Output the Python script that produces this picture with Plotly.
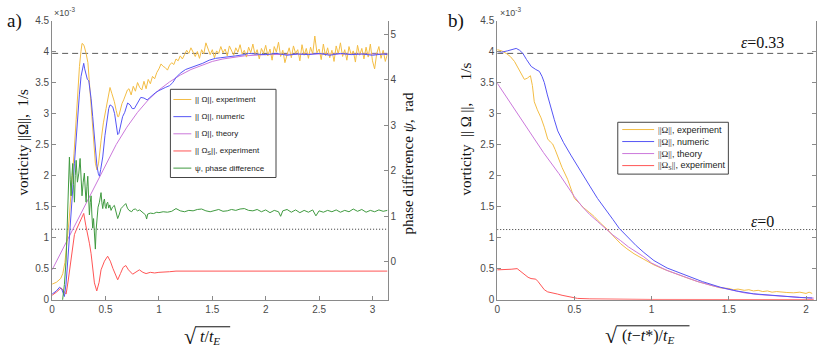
import plotly.graph_objects as go

W, H = 830, 357
def PX(x): return x / W
def PY(y): return 1 - y / H

PI = 3.14159

# ---------------- Panel a) data (vorticity in units of 1e-3 1/s) ----------------
a_exp_x = [0, 0.04, 0.08, 0.10, 0.12, 0.14, 0.16, 0.178, 0.19, 0.205, 0.225, 0.24, 0.256, 0.27, 0.28, 0.29,
           0.30, 0.318, 0.335, 0.349, 0.365, 0.38, 0.395, 0.405, 0.42, 0.435, 0.458, 0.48, 0.505, 0.525, 0.542,
           0.56, 0.583, 0.60, 0.614, 0.623, 0.64, 0.654, 0.67, 0.69, 0.705, 0.72,
           0.74, 0.76, 0.78, 0.80, 0.82, 0.84, 0.86, 0.88, 0.90, 0.92, 0.94, 0.96, 0.98, 1.00, 1.02, 1.04,
           1.06, 1.08, 1.10, 1.12, 1.14, 1.16, 1.18,
           1.20, 1.22, 1.24, 1.26, 1.28, 1.30, 1.32, 1.34, 1.36, 1.38, 1.40, 1.42, 1.44, 1.46, 1.48, 1.50,
           1.52, 1.54, 1.56, 1.58, 1.60, 1.62, 1.64, 1.66, 1.68, 1.70, 1.72, 1.74, 1.76, 1.78, 1.80, 1.82,
           1.84, 1.86, 1.88, 1.90, 1.92, 1.94, 1.96, 1.98, 2.00, 2.02, 2.04, 2.06, 2.08, 2.10, 2.12, 2.14,
           2.16, 2.18, 2.20, 2.22, 2.24, 2.26, 2.28, 2.30, 2.32, 2.34, 2.36, 2.38, 2.40, 2.42, 2.44, 2.46,
           2.48, 2.50, 2.52, 2.54, 2.56, 2.58, 2.60, 2.62, 2.64, 2.66, 2.68, 2.70, 2.72, 2.74, 2.76, 2.78,
           2.80, 2.82, 2.84, 2.86, 2.88, 2.90, 2.92, 2.94, 2.96, 2.98, 3.00, 3.02, 3.04, 3.06, 3.08, 3.10,
           3.12, 3.14]
a_exp_y = [0.25, 0.28, 0.34, 0.42, 0.60, 0.90, 1.30, 1.75, 2.00, 2.35, 2.90, 3.35, 3.76, 4.00, 4.13, 4.12,
           4.09, 3.97, 3.82, 3.50, 3.10, 2.72, 2.40, 2.20, 2.09, 2.20, 2.56, 2.85, 3.08, 3.30, 3.42,
           3.32, 3.19, 3.05, 2.95, 2.95, 3.08, 3.16, 3.22, 3.30, 3.38, 3.40,
           3.30, 3.44, 3.36, 3.50, 3.42, 3.38, 3.52, 3.40, 3.55, 3.48, 3.60, 3.56, 3.66, 3.72, 3.80, 3.76,
           3.74, 3.70, 3.78, 3.82, 3.79, 3.88, 3.85,
           3.93, 3.88, 3.95, 4.02, 3.97, 4.06, 3.99, 3.92, 4.00, 3.89, 4.03, 3.96, 4.14, 4.05, 3.95, 4.03,
           3.90, 4.01, 3.97, 4.08, 3.98, 4.04, 3.93, 4.09, 4.00, 3.94, 4.06, 3.99, 4.11, 3.96, 4.02, 3.91,
           4.07, 3.98, 4.12, 3.95, 4.03, 3.88, 4.05, 3.97, 4.10, 3.93, 4.04, 3.86, 4.08, 3.99, 4.15, 3.92,
           4.02, 3.82, 3.95, 4.06, 3.90, 4.09, 3.97, 4.03, 3.85, 4.11, 3.94, 4.05, 3.89, 4.07, 3.96, 4.25,
           3.98, 4.04, 3.87, 4.12, 3.93, 4.06, 3.90, 4.02, 3.84, 4.09, 3.96, 4.14, 3.92, 4.03, 3.86, 4.08,
           3.95, 4.01, 3.83, 4.10, 3.94, 4.05, 3.88, 4.07, 3.91, 4.12, 3.85, 3.72, 3.97, 4.08, 3.89, 4.02,
           3.84, 3.96]

a_num_x = [0, 0.04, 0.07, 0.09, 0.115, 0.13, 0.147, 0.168, 0.178, 0.194, 0.209, 0.224, 0.24, 0.255, 0.271,
           0.285, 0.296, 0.305, 0.318, 0.33, 0.343, 0.355, 0.365, 0.38, 0.396, 0.41, 0.42, 0.433, 0.443, 0.455,
           0.474, 0.495, 0.514, 0.53, 0.542, 0.555, 0.567, 0.585, 0.604, 0.614, 0.625, 0.64, 0.66, 0.68, 0.707,
           0.73, 0.75, 0.77, 0.80, 0.83, 0.86, 0.89, 0.91, 0.94, 0.97, 1.00, 1.03, 1.06, 1.10, 1.13, 1.16,
           1.20, 1.25, 1.30, 1.35, 1.41, 1.47, 1.53, 1.58, 1.64, 1.72, 1.80, 1.84, 1.90, 2.00, 2.10, 2.20,
           2.30, 2.40, 2.50, 2.60, 2.70, 2.80, 2.90, 3.00, 3.10, 3.14]
a_num_y = [0.09, 0.14, 0.20, 0.17, 0.05, 0.25, 0.64, 1.10, 1.36, 1.80, 2.20, 2.60, 2.98, 3.30, 3.60,
           3.75, 3.81, 3.72, 3.60, 3.55, 3.53, 3.40, 3.24, 2.95, 2.61, 2.32, 2.15, 2.03, 1.99, 2.10,
           2.30, 2.65, 2.90, 3.08, 3.14, 3.13, 3.11, 3.00, 2.80, 2.66, 2.68, 2.82, 2.95, 3.02, 3.17,
           3.14, 3.08, 3.08, 3.18, 3.26, 3.25, 3.22, 3.25, 3.30, 3.34, 3.37, 3.40, 3.42, 3.45, 3.50, 3.58,
           3.65, 3.71, 3.74, 3.77, 3.81, 3.86, 3.89, 3.90, 3.91, 3.93, 3.95, 3.97, 3.96, 3.95, 3.97, 3.94,
           3.96, 3.95, 3.97, 3.94, 3.97, 3.95, 3.96, 3.94, 3.96, 3.95]

a_th_x = [0, 0.1, 0.2, 0.3, 0.4, 0.5, 0.6, 0.7, 0.8, 0.9, 1.0, 1.1, 1.2, 1.3, 1.4, 1.5, 1.6, 1.7, 1.8,
          2.0, 2.4, 3.14]
a_th_y = [0.48, 0.82, 1.16, 1.50, 1.84, 2.17, 2.50, 2.78, 3.02, 3.22, 3.38, 3.51, 3.62, 3.71, 3.78,
          3.84, 3.88, 3.91, 3.93, 3.95, 3.96, 3.96]

a_s_x = [0, 0.04, 0.084, 0.10, 0.12, 0.131, 0.15, 0.178, 0.194, 0.209, 0.23, 0.256, 0.275, 0.296, 0.315,
         0.334, 0.35, 0.365, 0.38, 0.396, 0.418, 0.44, 0.458, 0.49, 0.52, 0.545, 0.57, 0.595, 0.614, 0.64,
         0.665, 0.69, 0.715, 0.754, 0.785, 0.817, 0.85, 0.88, 0.92, 0.96, 1.0, 1.05, 1.1, 1.16, 1.3, 1.5,
         1.8, 2.0, 2.2, 2.5, 2.8, 3.14]
a_s_y = [0.07, 0.12, 0.19, 0.15, 0.10, 0.09, 0.30, 0.64, 0.85, 1.05, 1.14, 1.23, 1.30, 1.39, 1.20,
         1.05, 0.90, 0.74, 0.50, 0.27, 0.14, 0.28, 0.48, 0.62, 0.70, 0.62, 0.50, 0.38, 0.32, 0.42,
         0.52, 0.55, 0.48, 0.41, 0.45, 0.48, 0.44, 0.42, 0.44, 0.43, 0.44, 0.44, 0.45, 0.46, 0.46, 0.46,
         0.47, 0.46, 0.46, 0.46, 0.46, 0.46]

# phase difference psi, rad (right axis)
a_psi_x = [0.09, 0.115, 0.131, 0.147, 0.162, 0.170, 0.178, 0.186, 0.193, 0.201, 0.209, 0.217, 0.225, 0.237,
           0.250, 0.262, 0.271, 0.280, 0.291, 0.302, 0.310, 0.318, 0.326, 0.334, 0.342, 0.349, 0.357, 0.365,
           0.372, 0.380, 0.388, 0.396, 0.405, 0.412, 0.420, 0.430, 0.443, 0.450, 0.458, 0.466, 0.474, 0.482,
           0.490, 0.497, 0.505, 0.512, 0.520, 0.530, 0.540, 0.552, 0.565, 0.583, 0.600, 0.614, 0.630, 0.645,
           0.665, 0.690, 0.705, 0.720, 0.745, 0.760, 0.780, 0.800, 0.820, 0.840, 0.860, 0.875, 0.885, 0.895,
           0.92, 0.95, 0.98,
           1.00, 1.04, 1.08, 1.12, 1.16, 1.20, 1.24, 1.28, 1.32, 1.36, 1.40, 1.44, 1.48, 1.52, 1.56, 1.60,
           1.64, 1.68, 1.72, 1.76, 1.80, 1.84, 1.88, 1.92, 1.96, 2.00, 2.04, 2.08, 2.12, 2.14, 2.16, 2.20,
           2.24, 2.28, 2.32, 2.36, 2.40, 2.44, 2.47, 2.50, 2.54, 2.58, 2.62, 2.66, 2.70, 2.74, 2.78, 2.82,
           2.86, 2.90, 2.94, 2.98, 3.02, 3.06, 3.10, 3.14]
a_psi_y = [-1.0, -0.5, 0.04, 1.31, 2.30, 1.80, 1.45, 1.90, 2.16, 1.70, 1.31, 1.90, 2.23, 1.75,
           1.95, 2.27, 1.80, 1.45, 1.75, 1.95, 1.60, 1.31, 1.65, 1.88, 1.40, 1.03, 1.30, 1.45,
           1.05, 0.74, 0.95, 0.55, 0.28, 0.70, 1.03, 1.20, 1.31, 1.45, 1.52, 1.30, 1.17, 1.32,
           1.38, 1.22, 1.17, 1.28, 1.31, 1.18, 1.25, 1.13, 1.20, 1.24, 1.08, 0.95, 1.05, 1.17,
           1.22, 1.28, 1.18, 1.13, 1.10, 1.15, 1.16, 1.12, 1.14, 1.09, 1.06, 1.03, 0.94, 1.05,
           1.07, 1.06, 1.09,
           1.08, 1.10, 1.09, 1.11, 1.17, 1.12, 1.10, 1.13, 1.12, 1.15, 1.16, 1.12, 1.10, 1.13, 1.15, 1.11,
           1.12, 1.15, 1.13, 1.16, 1.17, 1.13, 1.12, 1.15, 1.10, 1.14, 1.08, 1.13, 1.10, 1.00, 1.12, 1.15,
           1.09, 1.14, 1.08, 1.13, 1.09, 1.14, 1.01, 1.12, 1.09, 1.13, 1.10, 1.14, 1.09, 1.13, 1.10, 1.16,
           1.11, 1.15, 1.09, 1.13, 1.10, 1.14, 1.11, 1.13]

# ---------------- Panel b) data ----------------
b_exp_x = [0, 0.03, 0.058, 0.085, 0.112, 0.14, 0.176, 0.195, 0.215, 0.228, 0.24, 0.26, 0.284, 0.305, 0.327,
           0.345, 0.359, 0.375, 0.392, 0.42, 0.456, 0.48, 0.5, 0.53, 0.56, 0.60, 0.628, 0.67, 0.714, 0.75,
           0.8, 0.84, 0.886, 0.95, 1.015, 1.08, 1.15, 1.23, 1.30, 1.37, 1.445, 1.50, 1.53, 1.56, 1.60, 1.63,
           1.66, 1.69, 1.72, 1.75, 1.78, 1.81, 1.84, 1.876, 1.92, 1.96, 2.00, 2.02, 2.04]
b_exp_y = [4.03, 4.01, 3.97, 3.92, 3.84, 3.72, 3.55, 3.57, 3.61, 3.45, 3.19, 3.06, 2.93, 2.78, 2.59,
           2.54, 2.51, 2.42, 2.30, 2.13, 1.94, 1.78, 1.63, 1.56, 1.48, 1.40, 1.34, 1.23, 1.13, 1.03,
           0.90, 0.82, 0.74, 0.65, 0.56, 0.49, 0.42, 0.35, 0.29, 0.24, 0.19, 0.18, 0.16, 0.17, 0.15, 0.16,
           0.14, 0.15, 0.13, 0.14, 0.12, 0.13, 0.12, 0.115, 0.11, 0.12, 0.10, 0.12, 0.10]

b_num_x = [0, 0.03, 0.065, 0.10, 0.123, 0.145, 0.166, 0.19, 0.22, 0.25, 0.273, 0.29, 0.305, 0.325, 0.348,
           0.37, 0.392, 0.43, 0.477, 0.515, 0.553, 0.60, 0.65, 0.70, 0.75, 0.79, 0.85, 0.9, 0.95,
           1.015, 1.1, 1.23, 1.33, 1.445, 1.55, 1.66, 1.77, 1.876, 1.96, 2.04]
b_num_y = [4.00, 3.99, 4.01, 4.03, 4.05, 4.02, 3.97, 3.87, 3.76, 3.71, 3.68, 3.60, 3.50, 3.30, 3.08,
           2.90, 2.72, 2.53, 2.33, 2.17, 2.01, 1.83, 1.63, 1.45, 1.29, 1.15, 0.99, 0.87, 0.76,
           0.63, 0.51, 0.38, 0.29, 0.20, 0.14, 0.094, 0.07, 0.05, 0.035, 0.026]

b_th_x = [0, 0.1, 0.2, 0.3, 0.4, 0.45, 0.5, 0.55, 0.6, 0.65, 0.7, 0.75, 0.8, 0.85, 0.9, 0.95, 1.0, 1.1,
          1.2, 1.3, 1.4, 1.5, 1.6, 1.7, 1.8, 1.9, 2.0, 2.05]
b_th_y = [3.49, 3.12, 2.74, 2.37, 2.03, 1.84, 1.66, 1.50, 1.37, 1.26, 1.15, 1.04, 0.95, 0.85, 0.77, 0.69,
          0.59, 0.47, 0.38, 0.29, 0.22, 0.16, 0.11, 0.08, 0.06, 0.04, 0.03, 0.025]

b_s_x = [0, 0.058, 0.09, 0.129, 0.15, 0.176, 0.2, 0.219, 0.25, 0.265, 0.284, 0.305, 0.327, 0.36, 0.39,
         0.42, 0.456, 0.49, 0.52, 0.6, 0.7, 0.8, 1.0, 1.5, 2.05]
b_s_y = [0.48, 0.48, 0.49, 0.50, 0.46, 0.40, 0.36, 0.34, 0.33, 0.29, 0.22, 0.16, 0.125, 0.11, 0.09,
         0.07, 0.05, 0.035, 0.02, 0.012, 0.008, 0.005, 0.003, 0.002, 0.001]

# reference levels
eps033_level = 3.97
eps0_level = 1.135
a_xmax = PI
b_xmax = 2.065

# styles
C_EXP = "#F3BD45"
C_NUM = "#5555F5"
C_TH = "#CB78DB"
C_S = "#FF5555"
C_PSI = "#409A40"
AX = "#8a8a8a"
TICKFONT = dict(family="Liberation Sans", size=10, color="#4a4a4a")
SERIF = "Liberation Serif"

fig = go.Figure()

def line(x, y, color, xa, ya, dash=None, width=1.0):
    fig.add_trace(go.Scatter(x=x, y=y, mode="lines", xaxis=xa, yaxis=ya, showlegend=False,
                             hoverinfo="skip",
                             line=dict(color=color, width=width, dash=dash)))

# panel a
line([0, a_xmax], [eps033_level] * 2, "#5a5a5a", "x", "y", dash="6px,4px")
line([0, a_xmax], [eps0_level] * 2, "#333333", "x", "y", dash="1px,2px")
line(a_th_x, a_th_y, C_TH, "x", "y")
line(a_s_x, a_s_y, C_S, "x", "y")
line(a_exp_x, a_exp_y, C_EXP, "x", "y")
line(a_num_x, a_num_y, C_NUM, "x", "y")
line(a_psi_x, a_psi_y, C_PSI, "x", "y2")

# panel b
line([0, b_xmax], [eps033_level] * 2, "#5a5a5a", "x2", "y3", dash="6px,4px")
line([0, b_xmax], [eps0_level - 0.005] * 2, "#333333", "x2", "y3", dash="1px,2px")
line(b_s_x, b_s_y, C_S, "x2", "y3")
line(b_exp_x, b_exp_y, C_EXP, "x2", "y3")
line(b_th_x, b_th_y, C_TH, "x2", "y3")
line(b_num_x, b_num_y, C_NUM, "x2", "y3")

common = dict(showline=True, linecolor=AX, linewidth=1, ticks="inside", ticklen=4, tickcolor=AX,
              showgrid=False, zeroline=False, tickfont=TICKFONT)
ydom = [PY(304), PY(16)]

fig.update_layout(
    width=W, height=H, autosize=False,
    margin=dict(l=0, r=0, t=0, b=0),
    paper_bgcolor="white", plot_bgcolor="white",
    xaxis=dict(domain=[PX(49.3), PX(386)], range=[0, a_xmax], anchor="y",
               tickvals=[0, 0.5, 1, 1.5, 2, 2.5, 3], **common),
    yaxis=dict(domain=ydom, range=[0, 4.5], anchor="x",
               tickvals=[0, 0.5, 1, 1.5, 2, 2.5, 3, 3.5, 4, 4.5], **common),
    yaxis2=dict(overlaying="y", side="right", anchor="x", range=[-0.83, 5.30],
                tickvals=[0, 1, 2, 3, 4, 5], **common),
    xaxis2=dict(domain=[PX(496), PX(816)], range=[0, b_xmax], anchor="y3",
                tickvals=[0, 0.5, 1, 1.5, 2], **common),
    yaxis3=dict(domain=ydom, range=[0, 4.5], anchor="x2", mirror="ticks",
                tickvals=[0, 0.5, 1, 1.5, 2, 2.5, 3, 3.5, 4, 4.5], **common),
)

shapes = []
annots = []

def text(x, y, s, size, family=SERIF, color="#111111", angle=0, xanchor="center"):
    annots.append(dict(x=PX(x), y=PY(y), xref="paper", yref="paper", text=s, showarrow=False,
                       xanchor=xanchor, yanchor="middle", textangle=angle,
                       font=dict(family=family, size=size, color=color)))

def seg(x0, y0, x1, y1, color, width=1):
    shapes.append(dict(type="line", xref="paper", yref="paper", x0=PX(x0), y0=PY(y0), x1=PX(x1),
                       y1=PY(y1), line=dict(color=color, width=width), layer="above"))

# panel labels
text(12, 16, "a)", 19)
text(455, 16, "b)", 19)
# exponent labels
text(62, 7, "×10<sup>-3</sup>", 9, family="Liberation Sans", color="#4a4a4a")
text(509, 7, "×10<sup>-3</sup>", 9, family="Liberation Sans", color="#4a4a4a")

# axis titles
text(20, 141, "vorticity ||Ω||,  1/s", 15, angle=-90)
text(465, 128, "vorticity  || Ω ||,      1/s", 15, angle=-90)
text(406, 164, "phase difference <i>ψ</i>,  rad", 15, angle=-90)

# x titles with radical
text(188, 342, "√", 22, xanchor="center")
text(196, 343, "<i>t</i>/<i>t</i><sub><i>E</i></sub>", 16, xanchor="left")
seg(193, 332, 228, 332, "#111111", 1)
text(611, 341, "√", 22, xanchor="center")
text(619, 342, "(<i>t</i>−<i>t</i>*)/<i>t</i><sub><i>E</i></sub>", 16, xanchor="left")
seg(616, 331, 689, 331, "#111111", 1)

# epsilon labels
text(762, 39, "<i>ε</i>=0.33", 16)
text(762, 223, "<i>ε</i>=0", 16)

# legend a)
leg_a_names = ["|| Ω||, experiment", "|| Ω||, numeric", "|| Ω||, theory",
               "|| Ω<sub>S</sub>||, experiment", "ψ, phase difference"]
leg_a_colors = [C_EXP, C_NUM, C_TH, C_S, C_PSI]
shapes.append(dict(type="rect", xref="paper", yref="paper", x0=PX(168), y0=PY(178), x1=PX(274),
                   y1=PY(87), fillcolor="white", line=dict(color="#444444", width=1), layer="above"))
for i, (nm, c) in enumerate(zip(leg_a_names, leg_a_colors)):
    yy = 97.5 + i * 17.7
    seg(171, yy, 189, yy, c, 1)
    text(191, yy, nm, 8, family="Liberation Sans", color="#222222", xanchor="left")

# legend b)
leg_b_names = ["<span style='font-family:Liberation Serif'>||Ω||</span>, experiment",
               "<span style='font-family:Liberation Serif'>||Ω||</span>, numeric",
               "<span style='font-family:Liberation Serif'>||Ω||</span>, theory",
               "<span style='font-family:Liberation Serif'>||Ω<sub>S</sub>||</span>, experiment"]
leg_b_colors = [C_EXP, C_NUM, C_TH, C_S]
shapes.append(dict(type="rect", xref="paper", yref="paper", x0=PX(617), y0=PY(174.5), x1=PX(728),
                   y1=PY(121), fillcolor="white", line=dict(color="#444444", width=1), layer="above"))
for i, (nm, c) in enumerate(zip(leg_b_names, leg_b_colors)):
    yy = 128.5 + i * 12.4
    seg(621.5, yy, 653.5, yy, c, 1)
    text(655, yy, nm, 9, family="Liberation Sans", color="#222222", xanchor="left")

fig.update_layout(shapes=shapes, annotations=annots)
fig.write_html("out.html", config={"displayModeBar": False},
               post_script="document.body.style.margin='0px';document.body.style.overflow='hidden';")
